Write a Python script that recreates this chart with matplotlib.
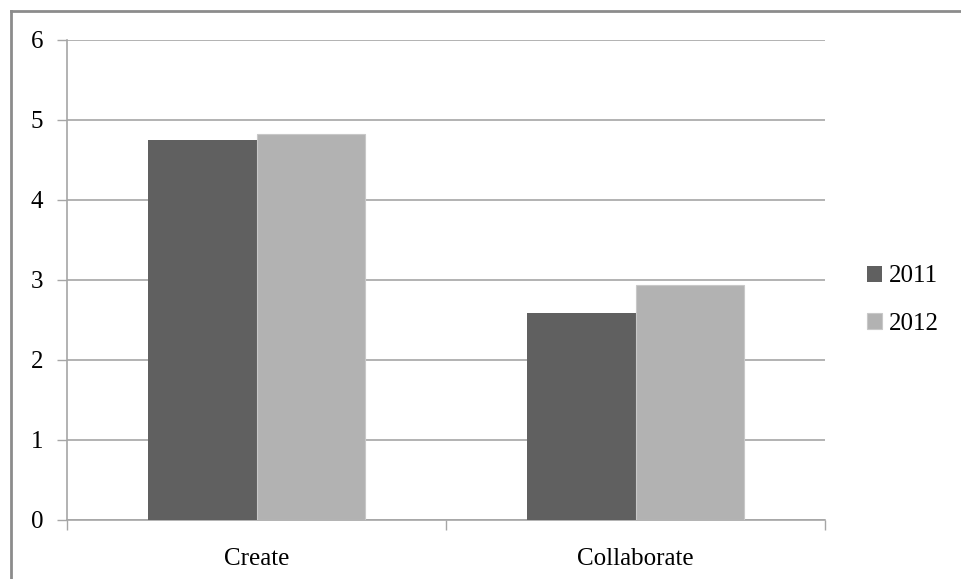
import matplotlib.pyplot as plt
import numpy as np
from matplotlib.lines import Line2D

categories = ["Create", "Collaborate"]
years = ["2011", "2012"]
values_2011 = [4.75, 2.59]
values_2012 = [4.82, 2.94]

colors = ["#606060", "#b2b2b2"]
grid_color = "#a6a6a6"

plt.rcParams['font.family'] = ['Liberation Serif', 'DejaVu Serif']

fig = plt.figure(figsize=(9.62, 5.79), dpi=100)
ax = fig.add_axes([67 / 962, 1 - 520 / 579, (825 - 67) / 962, 480 / 579])

x = np.arange(len(categories))
width = 0.285
ax.bar(x - width / 2, values_2011, width, color=colors[0], label=years[0], zorder=3)
ax.bar(x + width / 2, values_2012, width, color=colors[1], label=years[1],
       edgecolor="#c8c8c8", linewidth=0.8, zorder=3)

ax.set_xlim(-0.5, len(categories) - 0.5)
ax.set_ylim(0, 6)
ax.set_yticks(range(0, 7))
ax.yaxis.grid(True, color=grid_color, linewidth=1.2, zorder=0)

# category labels sit between boundary ticks
ax.set_xticks(x)
ax.set_xticklabels(categories)
ax.set_xticks(np.arange(-0.5, len(categories)), minor=True)
ax.tick_params(axis='x', which='major', length=0, pad=20, labelsize=18)
ax.tick_params(axis='x', which='minor', length=7, width=1, color=grid_color)
ax.tick_params(axis='y', length=7, width=1, color=grid_color, pad=10, labelsize=18)

for side in ["top", "right"]:
    ax.spines[side].set_visible(False)
for side in ["left", "bottom"]:
    ax.spines[side].set_color(grid_color)
    ax.spines[side].set_linewidth(1.2)

leg = fig.legend(loc="center left", bbox_to_anchor=(844 / 962, 1 - 300 / 579),
                 frameon=False, fontsize=18, handlelength=0.6, handleheight=0.6,
                 handletextpad=0.3, labelspacing=1.0)

# outer chart frame
fig.add_artist(Line2D([11 / 962, 11 / 962], [0, 1 - 11 / 579], transform=fig.transFigure,
                      color="#8c8c8c", linewidth=2))
fig.add_artist(Line2D([11 / 962, 1], [1 - 11 / 579, 1 - 11 / 579], transform=fig.transFigure,
                      color="#8c8c8c", linewidth=2))

fig.savefig("out.png", dpi=100)
